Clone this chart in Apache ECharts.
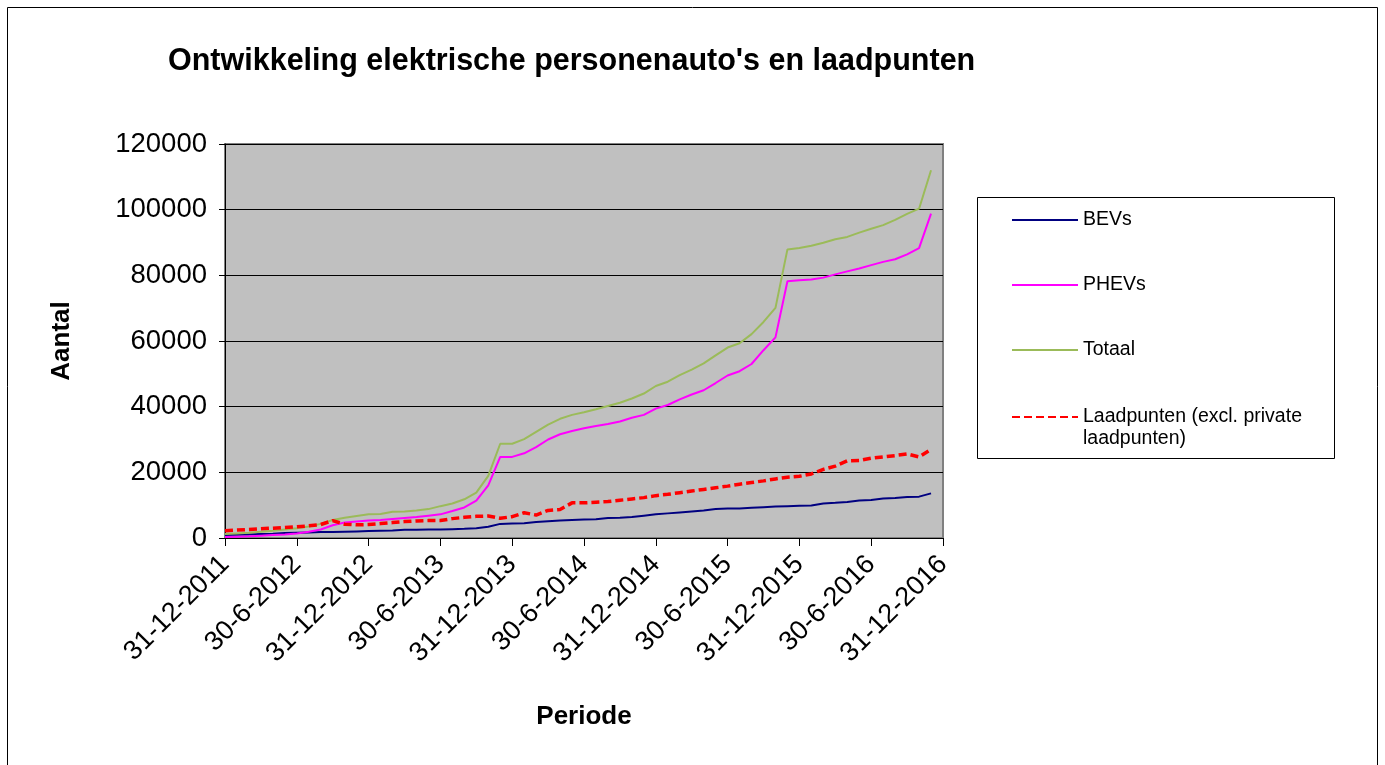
<!DOCTYPE html>
<html>
<head>
<meta charset="utf-8">
<script src="https://cdn.jsdelivr.net/npm/echarts@6/dist/echarts.min.js"></script>
<style>
  html, body { margin: 0; padding: 0; background: #fff; }
  #chart { width: 1385px; height: 765px; }
</style>
</head>
<body>
<div id="chart"></div>
<script>
// maandeinden, 31-12-2011 t/m 31-12-2016
const periods = [
  '31-12-2011',
  '31-1-2012', '29-2-2012', '31-3-2012', '30-4-2012', '31-5-2012', '30-6-2012',
  '31-7-2012', '31-8-2012', '30-9-2012', '31-10-2012', '30-11-2012', '31-12-2012',
  '31-1-2013', '28-2-2013', '31-3-2013', '30-4-2013', '31-5-2013', '30-6-2013',
  '31-7-2013', '31-8-2013', '30-9-2013', '31-10-2013', '30-11-2013', '31-12-2013',
  '31-1-2014', '28-2-2014', '31-3-2014', '30-4-2014', '31-5-2014', '30-6-2014',
  '31-7-2014', '31-8-2014', '30-9-2014', '31-10-2014', '30-11-2014', '31-12-2014',
  '31-1-2015', '28-2-2015', '31-3-2015', '30-4-2015', '31-5-2015', '30-6-2015',
  '31-7-2015', '31-8-2015', '30-9-2015', '31-10-2015', '30-11-2015', '31-12-2015',
  '31-1-2016', '29-2-2016', '31-3-2016', '30-4-2016', '31-5-2016', '30-6-2016',
  '31-7-2016', '31-8-2016', '30-9-2016', '31-10-2016', '30-11-2016', '31-12-2016'
];

const bevs = [
  900, 1000, 1100, 1200, 1300, 1500, 1600, 1700, 1800, 1800, 1900, 2000,
  2100, 2200, 2300, 2500, 2500, 2600, 2600, 2700, 2800, 3000, 3400, 4300,
  4400, 4500, 4900, 5100, 5300, 5500, 5600, 5700, 6100, 6200, 6400, 6800,
  7200, 7500, 7800, 8100, 8400, 8800, 9000, 9000, 9200, 9400, 9600, 9700,
  9800, 9900, 10500, 10700, 11000, 11400, 11600, 12000, 12200, 12500, 12600, 13600
];

const phevs = [
  300, 400, 500, 700, 900, 1100, 1400, 1900, 2600, 3900, 4700, 5000,
  5300, 5500, 5800, 6100, 6400, 6800, 7200, 8200, 9300, 11400, 16000, 24700,
  24700, 25800, 27700, 30000, 31600, 32600, 33400, 34100, 34700, 35500, 36600, 37500,
  39400, 40500, 42200, 43700, 45000, 47200, 49500, 50800, 53000, 57200, 61100, 78200,
  78500, 78700, 79300, 80300, 81200, 82100, 83100, 84100, 84900, 86400, 88300, 98800
];

const totaal = [
  1200, 1400, 1600, 1900, 2200, 2600, 3000, 3500, 4300, 5500, 6200, 6700,
  7200, 7300, 8000, 8100, 8400, 8800, 9700, 10500, 11800, 13800, 18900, 28700,
  28700, 30100, 32300, 34500, 36300, 37500, 38300, 39200, 40200, 41200, 42500, 44000,
  46300, 47600, 49600, 51300, 53200, 55600, 58000, 59300, 62100, 65800, 70100, 87900,
  88300, 89000, 89900, 91000, 91700, 93000, 94200, 95300, 96900, 98700, 100300, 112000
];

const laadpunten = [
  2200, 2400, 2600, 2800, 3000, 3200, 3400, 3700, 4100, 5300, 4200, 4000,
  4100, 4400, 4700, 5000, 5200, 5300, 5300, 5900, 6300, 6600, 6700, 6000,
  6500, 7700, 7000, 8400, 8700, 10700, 10700, 10900, 11100, 11500, 11900, 12300,
  12900, 13300, 13800, 14300, 14800, 15300, 15800, 16400, 16900, 17400, 18000, 18500,
  18800, 19500, 20900, 21900, 23500, 23600, 24300, 24700, 25100, 25600, 24700, 27000
];

const seriesNames = ['BEVs', 'PHEVs', 'Totaal', 'Laadpunten (excl. private\nlaadpunten)'];
const seriesColors = ['#000080', '#FF00FF', '#9BBB59', '#FF0000'];

const font = "'Liberation Sans', Arial, sans-serif";

const chart = echarts.init(document.getElementById('chart'));

// gedeelde legenda-instellingen (alleen lijn, geen bolletje)
const legendBase = {
  orient: 'vertical',
  left: 1011,
  padding: 0,
  itemWidth: 66,
  itemHeight: 14,
  itemGap: 43,
  itemStyle: { opacity: 0 },
  textStyle: { fontFamily: font, fontSize: 19.5, lineHeight: 22, color: '#000' },
  z: 5
};

const option = {
  animation: false,
  backgroundColor: '#ffffff',
  textStyle: { fontFamily: font, color: '#000' },
  title: {
    text: "Ontwikkeling elektrische personenauto's en laadpunten",
    left: 168,
    top: 46,
    padding: 0,
    textStyle: { fontFamily: font, fontSize: 30.5, fontWeight: 'bold', color: '#000' }
  },
  graphic: [
    { // kader rond de hele grafiek
      type: 'rect',
      shape: { x: 7.5, y: 7.5, width: 1370, height: 800 },
      style: { fill: 'none', stroke: '#000', lineWidth: 1 },
      silent: true
    },
    { // kader legenda
      type: 'rect',
      shape: { x: 977.5, y: 197.5, width: 357, height: 261 },
      style: { fill: '#fff', stroke: '#000', lineWidth: 1 },
      z: 0,
      silent: true
    }
  ],
  legend: [
    Object.assign({}, legendBase, {
      top: 209,
      data: seriesNames.slice(0, 3)
    }),
    Object.assign({}, legendBase, {
      top: 384,
      data: [seriesNames[3]],
      // lege eerste regel zodat de lijn bij de eerste tekstregel staat
      formatter: name => '\n' + name
    })
  ],
  grid: {
    left: 225,
    top: 144,
    width: 718,
    height: 394,
    show: true,
    backgroundColor: '#C0C0C0',
    borderColor: '#808080',
    borderWidth: 2,
    containLabel: false
  },
  xAxis: {
    type: 'category',
    data: periods,
    boundaryGap: false,
    name: 'Periode',
    nameLocation: 'middle',
    nameGap: 166,
    nameTextStyle: { fontFamily: font, fontSize: 26, fontWeight: 'bold', color: '#000' },
    axisLine: { show: true, lineStyle: { color: '#000', width: 1 } },
    axisTick: { show: true, interval: 5, length: 8, lineStyle: { color: '#000' } },
    axisLabel: { interval: 5, rotate: 45, fontSize: 27, color: '#000', margin: 22, fontFamily: font },
    splitLine: { show: false }
  },
  yAxis: {
    type: 'value',
    min: 0,
    max: 120000,
    interval: 20000,
    name: 'Aantal',
    nameLocation: 'middle',
    nameRotate: 90,
    nameGap: 150,
    nameTextStyle: { fontFamily: font, fontSize: 26, fontWeight: 'bold', color: '#000' },
    axisLine: { show: true, lineStyle: { color: '#000', width: 1 } },
    axisTick: { show: true, length: 6, lineStyle: { color: '#000' } },
    axisLabel: {
      fontSize: 27.5, color: '#000', margin: 18, fontFamily: font,
      formatter: value => String(value)
    },
    splitLine: { show: true, lineStyle: { color: '#000', width: 1 } }
  },
  series: [
    {
      name: seriesNames[0], type: 'line', data: bevs, symbol: 'none', showSymbol: false,
      color: seriesColors[0], lineStyle: { color: seriesColors[0], width: 2 }
    },
    {
      name: seriesNames[1], type: 'line', data: phevs, symbol: 'none', showSymbol: false,
      color: seriesColors[1], lineStyle: { color: seriesColors[1], width: 2 }
    },
    {
      name: seriesNames[2], type: 'line', data: totaal, symbol: 'none', showSymbol: false,
      color: seriesColors[2], lineStyle: { color: seriesColors[2], width: 2 }
    },
    {
      name: seriesNames[3], type: 'line', data: laadpunten, symbol: 'none', showSymbol: false,
      color: seriesColors[3], lineStyle: { color: seriesColors[3], width: 3.5, type: [8, 4] }
    }
  ]
};

chart.setOption(option);
</script>
</body>
</html>
